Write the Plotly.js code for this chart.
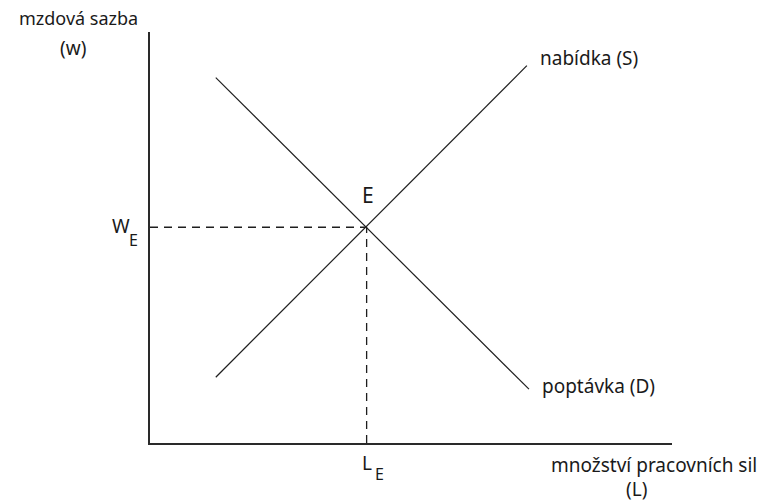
<!DOCTYPE html>
<html>
<head>
<meta charset="utf-8">
<script src="https://cdn.plot.ly/plotly-3.0.1.min.js"></script>
<style>html,body{margin:0;padding:0;background:#fff}#chart{width:765px;height:503px}</style>
</head>
<body>
<div id="chart"></div>
<script>
// Data (conceptual units on a 0-10 scale)
var supplyX = [1.26, 7.22];
var supplyY = [1.60, 9.18];
var demandX = [1.26, 7.26];
var demandY = [8.89, 1.31];
var eqX = [4.15];
var eqY = [5.25];
var curveLabels = ["nabídka (S)", "poptávka (D)"];
var axisLabels = ["mzdová sazba", "(w)", "množství pracovních sil", "(L)"];
var pointLabels = ["E", "W", "L"];
var subLabel = "E";

var W = 765, H = 503;
var M = {l: 150, r: 93, t: 32, b: 60};
var pw = W - M.l - M.r, ph = H - M.t - M.b;
function px(x){ return (x - M.l) / pw; }
function py(y){ return (H - M.b - y) / ph; }

var lineCol = '#1e1e1e';
var traces = [
  {x: supplyX, y: supplyY, mode: 'lines', line: {color: lineCol, width: 1.2}, hoverinfo: 'skip'},
  {x: demandX, y: demandY, mode: 'lines', line: {color: lineCol, width: 1.2}, hoverinfo: 'skip'},
  {x: [0, eqX[0]], y: [eqY[0], eqY[0]], mode: 'lines', line: {color: lineCol, width: 1.3, dash: '8px,6px'}, hoverinfo: 'skip'},
  {x: [eqX[0], eqX[0]], y: [0, eqY[0]], mode: 'lines', line: {color: lineCol, width: 1.3, dash: '8px,6px'}, hoverinfo: 'skip'}
];

var font = {family: 'Noto Sans, Open Sans, sans-serif', size: 19, color: '#1a1a1a'};
function ann(text, x, y, xa, size){
  return {text: text, xref: 'paper', yref: 'paper', x: px(x), y: py(y), xanchor: xa || 'center', yanchor: 'middle',
          showarrow: false, font: Object.assign({}, font, size ? {size: size} : {})};
}
var annotations = [
  ann(axisLabels[0], 78, 18, 'center', 18),
  ann(axisLabels[1], 73, 48),
  ann(axisLabels[2], 654, 465),
  ann(axisLabels[3], 636, 489),
  ann(curveLabels[0], 538, 58, 'left'),
  ann(curveLabels[1], 540, 386, 'left'),
  ann(pointLabels[0], 368, 195, 'center', 21),
  ann(pointLabels[1], 121, 226, 'right' === 'x' ? 'right' : 'center', 19),
  ann(subLabel, 133, 240, 'center', 16),
  ann(pointLabels[2], 367, 463, 'center', 19),
  ann(subLabel, 379, 474, 'center', 16)
];

var layout = {
  width: W, height: H,
  margin: M,
  paper_bgcolor: '#fff', plot_bgcolor: '#fff',
  showlegend: false,
  xaxis: {range: [0, 10], showgrid: false, zeroline: false, showticklabels: false, ticks: '',
          showline: true, linecolor: '#2a2a2a', linewidth: 2, fixedrange: true},
  yaxis: {range: [0, 10], showgrid: false, zeroline: false, showticklabels: false, ticks: '',
          showline: true, linecolor: '#2a2a2a', linewidth: 2, fixedrange: true},
  annotations: annotations
};
Plotly.newPlot('chart', traces, layout, {staticPlot: true, displayModeBar: false});
</script>
</body>
</html>
